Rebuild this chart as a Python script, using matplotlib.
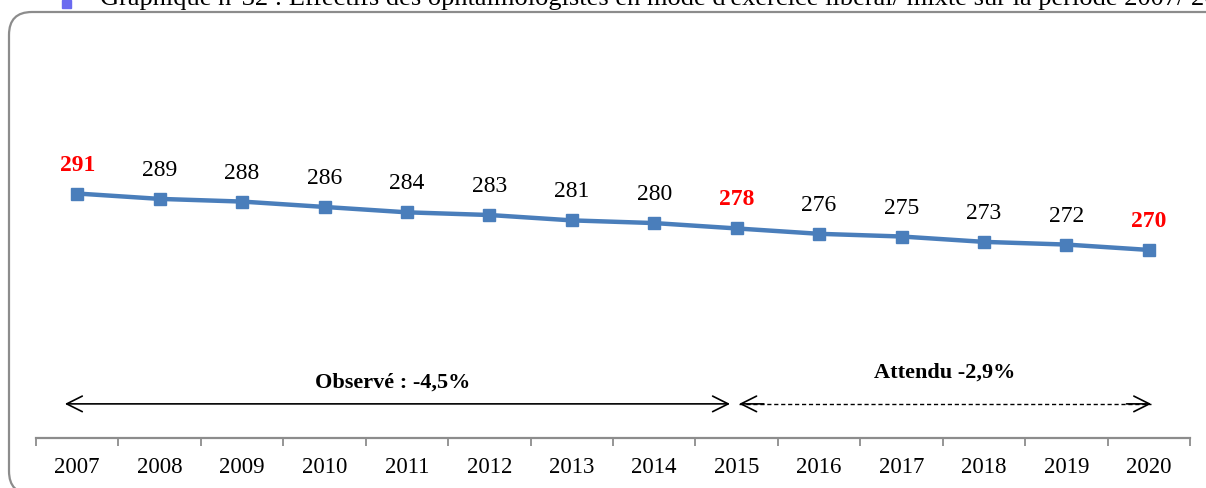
import matplotlib.pyplot as plt
import numpy as np
from matplotlib.patches import FancyBboxPatch

# effectifs des ophtalmologistes (libéral / mixte)
annees = ['2007', '2008', '2009', '2010', '2011', '2012', '2013',
          '2014', '2015', '2016', '2017', '2018', '2019', '2020']
effectifs = [291, 289, 288, 286, 284, 283, 281, 280, 278, 276, 275, 273, 272, 270]
annees_cles = ['2007', '2015', '2020']

titre = "Graphique n°32 : Effectifs des ophtalmologistes en mode d'exercice libéral/ mixte sur la période 2007/ 2020"
txt_observe = "Observé : -4,5%"
txt_attendu = "Attendu -2,9%"

plt.rcParams['font.family'] = ['Liberation Serif', 'DejaVu Serif']

W, H = 1206, 488
fig = plt.figure(figsize=(W / 100, H / 100), dpi=100)

# cadre arrondi autour du graphique
cadre = FancyBboxPatch((9 / W, -6 / H), 1.05, (H - 12 + 6) / H,
                       boxstyle="round,pad=0,rounding_size=0.019",
                       transform=fig.transFigure, fill=False,
                       edgecolor='#8c8c8c', linewidth=1.6, mutation_aspect=W / H)
fig.patches.append(cadre)

# titre, coupé en haut
fig.text(100 / W, 1 - 5 / H, titre, fontsize=19, va='baseline', ha='left', color='black')
fig.patches.append(plt.Rectangle((62 / W, 1 - 8 / H), 9 / W, 8 / H,
                                 transform=fig.transFigure, color='#6a6af0'))

ax = fig.add_axes([36 / W, (H - 438) / H, 1154 / W, (438 - 35) / H])
x = np.arange(len(annees))
ax.plot(x, effectifs, color='#4a7ebb', linewidth=3.2, marker='s', markersize=9,
        markeredgecolor='#4a7ebb', clip_on=False)

for xi, an, v in zip(x, annees, effectifs):
    if an in annees_cles:
        ax.text(xi, v + 10.6, str(v), ha='center', va='center', fontsize=17,
                fontweight='bold', color='#ff0000')
    else:
        ax.text(xi, v + 10.6, str(v), ha='center', va='center', fontsize=17, color='black')

ax.set_xlim(-0.5, len(annees) - 0.5)
ax.set_ylim(200, 350)
ax.set_xticks(x)
ax.set_xticklabels(annees, fontsize=16.5)
ax.set_xticks(np.arange(len(annees) + 1) - 0.5, minor=True)
ax.tick_params(axis='x', which='major', length=0, pad=14)
ax.tick_params(axis='x', which='minor', length=6, width=1.3, color='#8c8c8c')
ax.set_yticks([])
for s in ['top', 'right', 'left']:
    ax.spines[s].set_visible(False)
ax.spines['bottom'].set_color('#8c8c8c')
ax.spines['bottom'].set_linewidth(1.6)
ax.patch.set_visible(False)

# flèches des périodes
y_fl = 212.7
ax.annotate('', xy=(-0.15, y_fl), xytext=(7.92, y_fl),
            arrowprops=dict(arrowstyle='<->', color='black', lw=1.2, mutation_scale=28,
                            shrinkA=0, shrinkB=0))
ax.text(3.83, 220.5, txt_observe, ha='center', va='center', fontsize=16, fontweight='bold')

x0, x1 = 8.03, 13.03
ax.plot([x0, x1], [y_fl, y_fl], color='black', lw=1.0, linestyle=(0, (3, 2)))
ax.annotate('', xy=(x0, y_fl), xytext=(x0 + 0.3, y_fl),
            arrowprops=dict(arrowstyle='->', color='black', lw=1.2, mutation_scale=28,
                            shrinkA=0, shrinkB=0, linestyle='solid'))
ax.annotate('', xy=(x1, y_fl), xytext=(x1 - 0.3, y_fl),
            arrowprops=dict(arrowstyle='->', color='black', lw=1.2, mutation_scale=28,
                            shrinkA=0, shrinkB=0))
ax.text(10.53, 224.2, txt_attendu, ha='center', va='center', fontsize=16, fontweight='bold')

fig.savefig('out.png', dpi=100)
